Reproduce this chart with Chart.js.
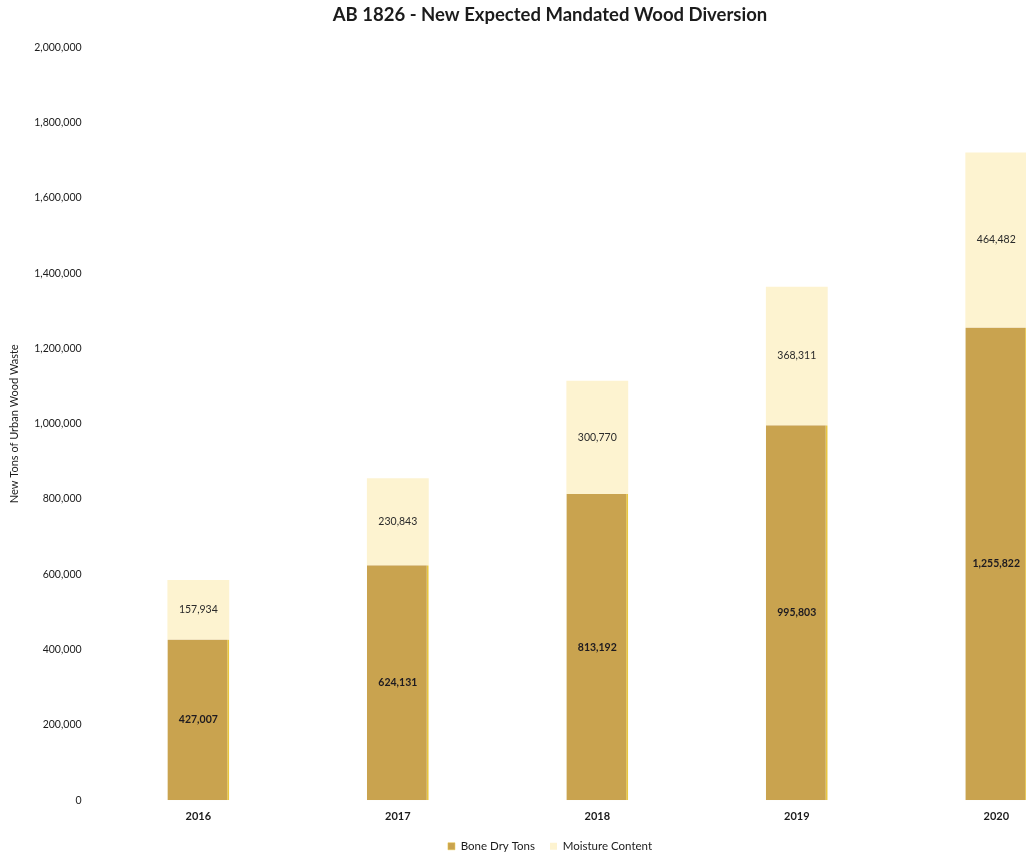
<!DOCTYPE html>
<html>
<head>
<meta charset="utf-8">
<script src="https://cdn.jsdelivr.net/npm/chart.js@4/dist/chart.umd.min.js"></script>
<style>
  html, body { margin: 0; padding: 0; background: #fff; overflow: hidden; }
  #wrap { position: relative; width: 1100px; height: 854px; }
</style>
</head>
<body>
<div id="wrap"><canvas id="woodChart"></canvas></div>
<script>
'use strict';

// Data
const YEARS = ['2016', '2017', '2018', '2019', '2020'];
const BONE_DRY_TONS = [427007, 624131, 813192, 995803, 1255822];
const MOISTURE_CONTENT = [157934, 230843, 300770, 368311, 464482];

const FONT = 'Lato, "Open Sans", sans-serif';
const fmt = v => v.toLocaleString('en-US');

// Draws the value of each segment in its middle
const segmentLabels = {
    id: 'segmentLabels',
    afterDatasetsDraw(chart) {
        const ctx = chart.ctx;
        ctx.save();
        ctx.textAlign = 'center';
        ctx.textBaseline = 'middle';
        chart.data.datasets.forEach((ds, i) => {
            const meta = chart.getDatasetMeta(i);
            ctx.font = (i === 0 ? 'bold ' : '') + '10.5px ' + FONT;
            ctx.fillStyle = i === 0 ? '#1d1a20' : '#2a2a2a';
            meta.data.forEach((bar, j) => {
                const p = bar.getProps(['x', 'y', 'base'], true);
                ctx.fillText(fmt(ds.data[j]), p.x, (p.y + p.base) / 2);
            });
        });
        ctx.restore();
    }
};

new Chart(document.getElementById('woodChart'), {
    type: 'bar',
    data: {
        labels: YEARS,
        datasets: [
            {
                label: 'Bone Dry Tons',
                data: BONE_DRY_TONS,
                backgroundColor: '#c9a34f',
                borderColor: '#e8c640',
                borderWidth: { right: 2 },
                borderSkipped: false
            },
            {
                label: 'Moisture Content',
                data: MOISTURE_CONTENT,
                backgroundColor: '#fdf3d0',
                borderWidth: 0
            }
        ]
    },
    options: {
        responsive: true,
        maintainAspectRatio: false,
        animation: false,
        layout: { padding: { left: 4, right: 4, top: 0, bottom: -8 } },
        datasets: { bar: { categoryPercentage: 1, barPercentage: 0.31 } },
        plugins: {
            title: {
                display: true,
                text: 'AB 1826 - New Expected Mandated Wood Diversion',
                color: '#1b1b1b',
                font: { family: FONT, size: 18.5, weight: 'bold' },
                padding: { top: 4, bottom: 21 }
            },
            legend: {
                position: 'bottom',
                labels: {
                    color: '#1b1b1b',
                    font: { family: FONT, size: 11.5 },
                    boxWidth: 7,
                    boxHeight: 7,
                    padding: 15
                }
            },
            tooltip: { enabled: false }
        },
        scales: {
            x: {
                stacked: true,
                grid: { display: false },
                border: { display: false },
                ticks: { color: '#1b1b1b', font: { family: FONT, size: 11, weight: 'bold' }, padding: 2 }
            },
            y: {
                stacked: true,
                min: 0,
                max: 2000000,
                grid: { display: false },
                border: { display: false },
                ticks: {
                    stepSize: 200000,
                    color: '#1b1b1b',
                    padding: 9,
                    font: { family: FONT, size: 10.5 },
                    callback: v => fmt(v)
                },
                title: {
                    display: true,
                    text: 'New Tons of Urban Wood Waste',
                    color: '#1b1b1b',
                    font: { family: FONT, size: 11 },
                    padding: { bottom: 4 }
                }
            }
        }
    },
    plugins: [segmentLabels]
});
</script>
</body>
</html>
